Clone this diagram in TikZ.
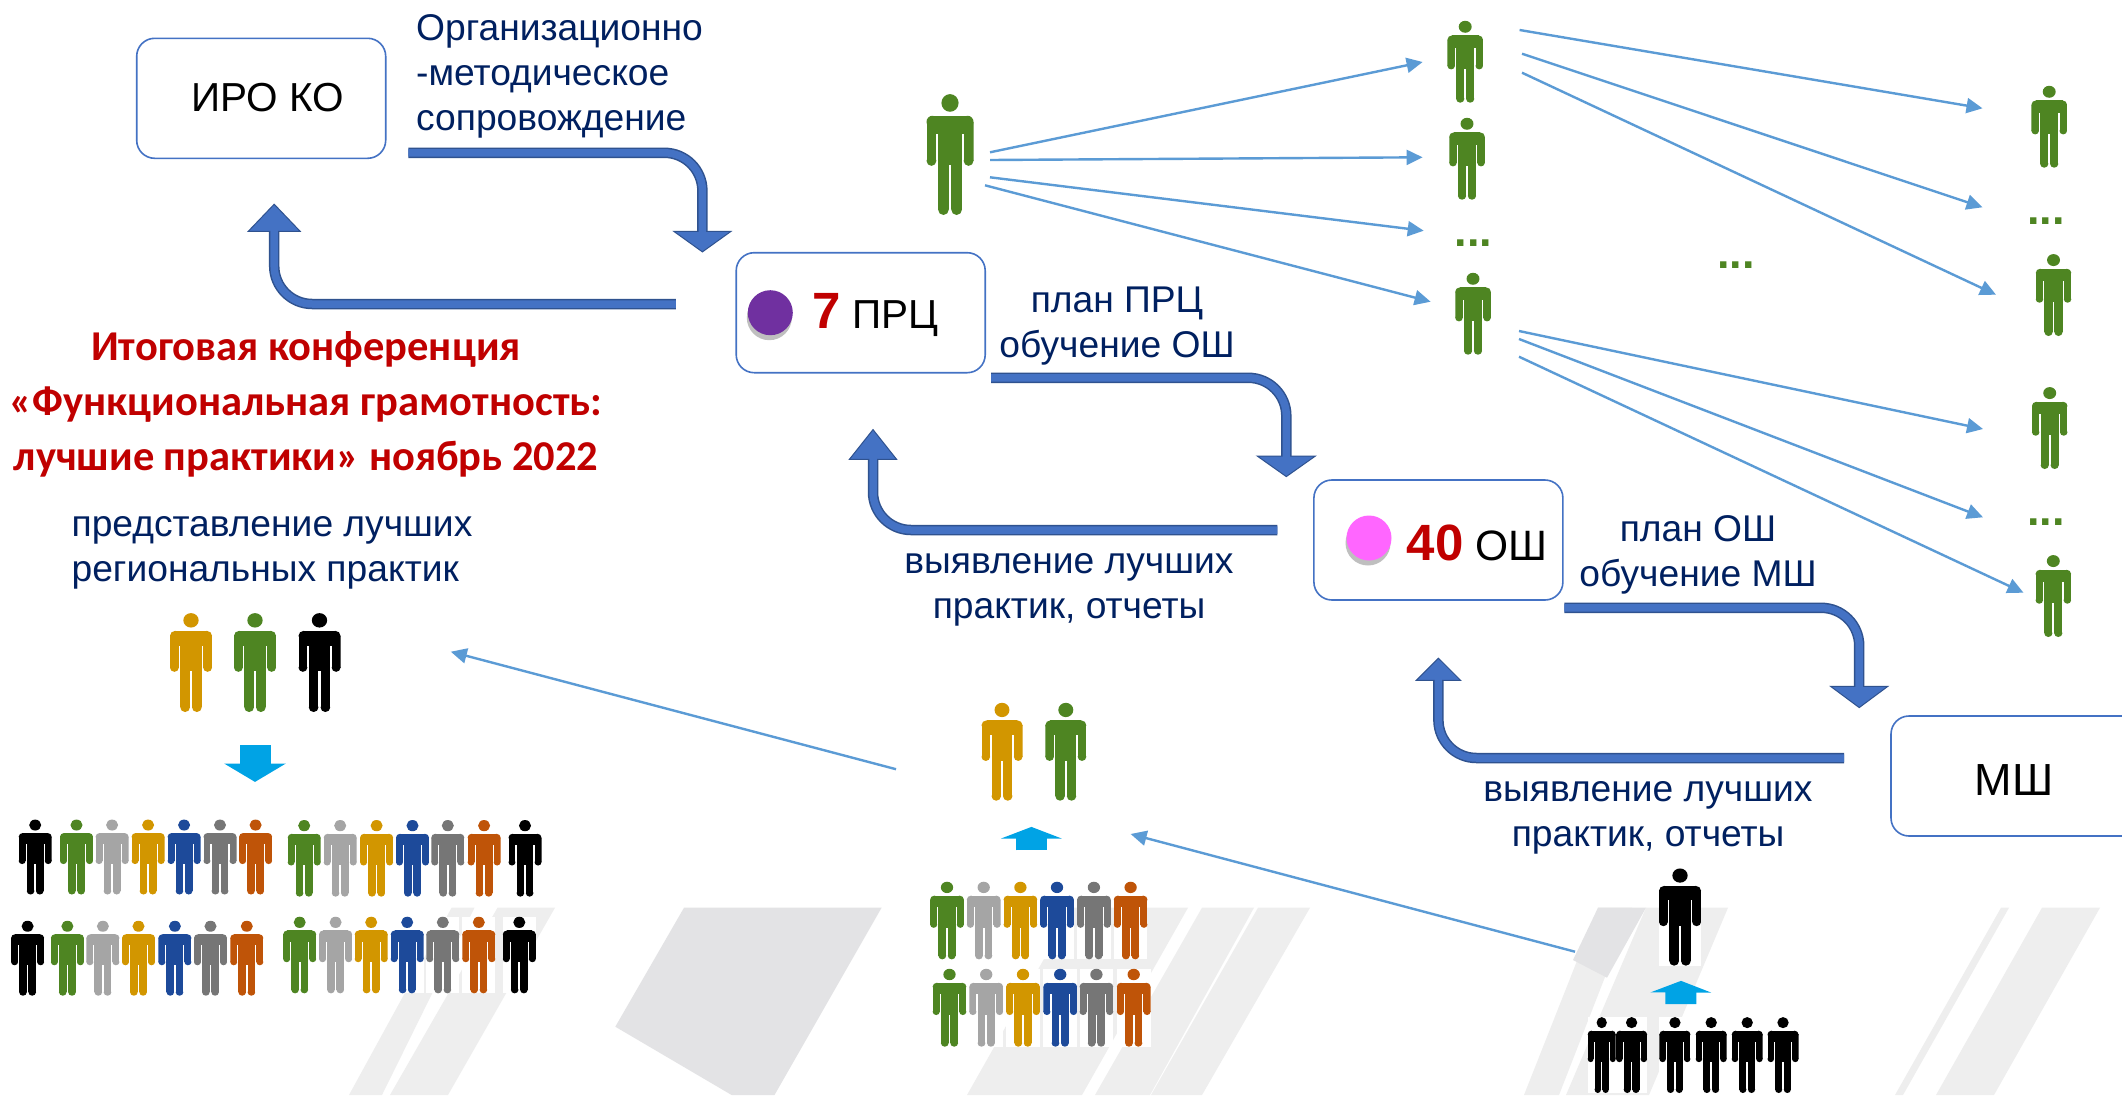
\documentclass[tikz,border=0pt]{standalone}
\usepackage{fontspec}
\setmainfont{Liberation Sans}
\newfontfamily\redfont{Carlito}
\usepackage{tikz}
\usetikzlibrary{arrows.meta, shadows}

\definecolor{boxblue}{HTML}{4472C4}
\definecolor{arrowblue}{HTML}{4472C4}
\definecolor{arrowedge}{HTML}{2F528F}
\definecolor{linkblue}{HTML}{5B9BD5}
\definecolor{tierblue}{HTML}{00A3E5}
\definecolor{labelnavy}{HTML}{002060}
\definecolor{titlered}{HTML}{C00000}
\definecolor{dotpurple}{HTML}{7030A0}
\definecolor{dotpink}{HTML}{FF66FF}
\definecolor{pgreen}{HTML}{4E8522}
\definecolor{porange}{HTML}{D29600}
\definecolor{psilver}{HTML}{A5A5A5}
\definecolor{pblue}{HTML}{1D4A9A}
\definecolor{pgray}{HTML}{767676}
\definecolor{prust}{HTML}{BF5408}
\definecolor{stripedark}{HTML}{E3E3E5}
\definecolor{stripelight}{HTML}{EEEEEE}

\newcommand{\personshape}[3]{%
	\begin{scope}[shift={(path picture bounding box.center)},x={#2pt/40},y={-#3pt/100},#1]
		\fill (0,-42.6) circle[radius=7.3];
		\fill (-15,-27) circle[radius=5];
		\fill (15,-27) circle[radius=5];
		\fill (-15,-32) rectangle (15,-17);
		\fill (-20,-27) rectangle (-11.6,5.2);
		\fill (11.6,-27) rectangle (20,5.2);
		\fill (-15.8,5.2) circle[radius=4.2];
		\fill (15.8,5.2) circle[radius=4.2];
		\fill (-10.2,-27) rectangle (10.2,9);
		\fill (-10.2,9) rectangle (-1,45.4);
		\fill (1,9) rectangle (10.2,45.4);
		\fill (-5.6,45.4) circle[radius=4.6];
		\fill (5.6,45.4) circle[radius=4.6];
	\end{scope}}

\tikzset{%
	person/.style n args={3}{rectangle,inner sep=0pt,fill=white,minimum width=#2pt,minimum height=#3pt,path picture={\personshape{#1}{#2}{#3}}},
	infobox/.style={draw=boxblue,line width=1.6pt,fill=white,rounded corners=18pt,inner sep=0pt,minimum width=249pt,minimum height=120pt},
	boxtext/.style={inner sep=0pt,font=\fontsize{40.5}{48}\selectfont},
	notelabel/.style={inner sep=0pt,text=labelnavy,align=center,font=\fontsize{37.2}{45}\selectfont},
	moredots/.style={inner sep=0pt,anchor=base,text=pgreen,font=\fontsize{45}{50}\selectfont\bfseries},
	statedot/.style={circle,inner sep=0pt,minimum size=45pt,fill=#1,drop shadow={shadow xshift=-1pt,shadow yshift=-5pt,opacity=0.5}},
	link/.style={draw=linkblue,line width=2.4pt,-{Triangle[length=16pt,width=15pt]}},
	flow/.style n args={2}{draw=arrowedge,line width=10.5pt,rounded corners=38pt,-{Triangle[length=#1pt,width=#2pt,fill=arrowblue,line width=1pt]},postaction={draw=arrowblue,line width=7.5pt,-,shorten >=#1pt-2pt}},
	tier/.style={draw=tierblue,line width=31pt},
}
\newcommand{\bignum}[1]{{\fontsize{51}{51}\selectfont\bfseries\textcolor{titlered}{#1}}}

\begin{document}
\begin{tikzpicture}[x=1pt,y=-1pt]
	\useasboundingbox[fill=white] (0,0) rectangle (2122,1095);

	% stripes behind the people
	\fill[stripedark] (684,907.7) -- (881.6,907.7) -- (774.5,1095) -- (731.6,1095) -- (615.3,1026.7) -- cycle;
	\fill[stripelight] (451.6,907.7) -- (474.5,907.7) -- (382,1095) -- (349,1095) -- cycle;
	\fill[stripelight] (497.5,907.7) -- (555,907.7) -- (448,1095) -- (390,1095) -- cycle;
	\fill[stripelight] (1073,907.7) -- (1188,907.7) -- (1082,1095) -- (967,1095) -- cycle;
	\fill[stripelight] (1202,907.7) -- (1254,907.7) -- (1150,1095) -- (1095,1095) -- cycle;
	\fill[stripelight] (1258,907.7) -- (1310,907.7) -- (1202,1095) -- (1151,1095) -- cycle;
	\fill[stripelight] (1598,907.7) -- (1632,907.7) -- (1559,1095) -- (1524,1095) -- cycle;
	\fill[stripelight] (1646,907.7) -- (1728,907.7) -- (1649,1095) -- (1566,1095) -- cycle;
	\fill[stripelight] (2001,907.7) -- (2009,907.7) -- (1903,1095) -- (1895,1095) -- cycle;
	\fill[stripelight] (2042,907.7) -- (2100,907.7) -- (1994,1095) -- (1936,1095) -- cycle;
	\fill[stripedark] (1573,960) -- (1607,977.7) -- (1646,907.7) -- (1598,907.7) -- cycle;

	% boxes
	\node[infobox](iro) at (261.2,98.3) {};
	\node[infobox](prc) at (860.7,312.7) {};
	\node[infobox](osh) at (1438.4,540) {};
	\node[infobox](msh) at (2015.5,776) {};
	\node[boxtext](irotext) at (267.5,98) {ИРО КО};
	\node[boxtext,anchor=base](prctext) at (875.5,328) {\bignum{7} ПРЦ};
	\node[boxtext,font=\fontsize{42.5}{48}\selectfont,anchor=base](oshtext) at (1477,560.7) {\bignum{40} ОШ};
	\node[boxtext,font=\fontsize{45}{48}\selectfont](mshtext) at (2014.3,780) {МШ};
	\node[statedot=dotpurple](prcdot) at (770.3,312.7) {};
	\node[statedot=dotpink](oshdot) at (1369,538) {};

	% labels
	\node[notelabel,anchor=west,align=left](orgnote) at (416,76) {Организационно\\-методическое\\сопровождение};
	\node[notelabel](plannote) at (1117,326.5) {план ПРЦ\\обучение ОШ};
	\node[notelabel](findnote) at (1069,589.5) {выявление лучших\\практик, отчеты};
	\node[notelabel](plantwo) at (1698,555) {план ОШ\\обучение МШ};
	\node[notelabel](findtwo) at (1648,818) {выявление лучших\\практик, отчеты};
	\node[notelabel,anchor=west,align=left](bestnote) at (71.4,553) {представление лучших\\региональных практик};
	\node[inner sep=0pt,text=titlered,align=center,font=\fontsize{42.5}{55}\selectfont\redfont\bfseries](title) at (306,404) {Итоговая конференция\\«Функциональная грамотность:\\лучшие практики» ноябрь 2022};

	% flow arrows
	\draw[flow={21.6}{60}] ([shift={(21.8,-6.3)}]iro.south east) -| ([shift={(-33,0.6)}]prc.north west);
	\draw[flow={28.3}{54}] ([shift={(-59.6,-8.7)}]prc.west) -| ([shift={(13,44.4)}]iro.south);
	\draw[flow={21.6}{61}] ([shift={(5,4.3)}]prc.south east) -| ([shift={(-26.8,-2)}]osh.north west);
	\draw[flow={31}{49}] ([shift={(-35.8,-10)}]osh.west) -| ([shift={(12.3,55.3)}]prc.south);
	\draw[flow={22.3}{60}] ([shift={(0.7,7)}]osh.south east) -| ([shift={(-31,-7)}]msh.north west);
	\draw[flow={23.3}{46.5}] ([shift={(-46,-18)}]msh.west) -| ([shift={(0,56.7)}]osh.south);

	% people at the top
	\node[person={pgreen}{47}{121}](lead) at (950,154.5) {};
	\node[person={pgreen}{35.5}{82}](g1) at (1465.2,61.7) {};
	\node[person={pgreen}{35.5}{82}](g2) at (1467,158.7) {};
	\node[person={pgreen}{35.5}{82}](g3) at (1473,313.7) {};
	\node[person={pgreen}{35.5}{82}](h1) at (2049.2,126.7) {};
	\node[person={pgreen}{35.5}{82}](h2) at (2053.5,295) {};
	\node[person={pgreen}{35.5}{82}](h3) at (2049.7,428) {};
	\node[person={pgreen}{35.5}{82}](h4) at (2053.3,596) {};
	\node[moredots](dots1) at (1473.7,246) {...};
	\node[moredots](dots2) at (1736,268) {...};
	\node[moredots](dots3) at (2046,224.7) {...};
	\node[moredots](dots4) at (2046,525.7) {...};

	\draw[link] ([shift={(40,-2.2)}]lead.center) to ([shift={(-42.6,0.3)}]g1.center);
	\draw[link] ([shift={(40,5.5)}]lead.center) to ([shift={(-44.4,-1.4)}]g2.center);
	\draw[link] ([shift={(40,22.8)}]lead.center) to ([shift={(-50,-15.3)}]dots1.base);
	\draw[link] ([shift={(35,30.8)}]lead.center) to ([shift={(-42.4,-12)}]g3.center);
	\draw[link] ([shift={(54.4,-31.7)}]g1.center) to ([shift={(-66.7,-18.4)}]h1.center);
	\draw[link] ([shift={(56.8,-8)}]g1.center) to ([shift={(-63.5,-17.4)}]dots3.base);
	\draw[link] ([shift={(56.8,11)}]g1.center) to ([shift={(-57.5,-0.3)}]h2.center);
	\draw[link] ([shift={(46,17.3)}]g3.center) to ([shift={(-66.7,1)}]h3.center);
	\draw[link] ([shift={(46,25.3)}]g3.center) to ([shift={(-63,-8.4)}]dots4.base);
	\draw[link] ([shift={(46,43)}]g3.center) to ([shift={(-29.8,-3.3)}]h4.center);

	% best practices on the left
	\node[person={porange}{42}{99}](t1) at (191,662.5) {};
	\node[person={pgreen}{42}{99}](t2) at (255,662.5) {};
	\node[person={black}{42}{99}](t3) at (319.5,662.5) {};
	\draw[tier,-{Triangle[length=18.4pt,width=61pt]}] ([yshift=-33pt]t2.south) to ([yshift=-69.7pt]t2.south);

	\node[person={black}{33}{75}](a1) at (35.2,857) {};
	\node[person={pgreen}{33}{75}](a2) at (76.5,857) {};
	\node[person={psilver}{33}{75}](a3) at (112.1,857) {};
	\node[person={porange}{33}{75}](a4) at (148.1,857) {};
	\node[person={pblue}{33}{75}](a5) at (184.1,857) {};
	\node[person={pgray}{33}{75}](a6) at (220,857) {};
	\node[person={prust}{33}{75}](a7) at (255.6,857) {};
	\node[person={pgreen}{33}{76.7}](b1) at (304.2,858.3) {};
	\node[person={psilver}{33}{76.7}](b2) at (340.2,858.3) {};
	\node[person={porange}{33}{76.7}](b3) at (376.6,858.3) {};
	\node[person={pblue}{33}{76.7}](b4) at (412.5,858.3) {};
	\node[person={pgray}{33}{76.7}](b5) at (447.8,858.3) {};
	\node[person={prust}{33}{76.7}](b6) at (484.1,858.3) {};
	\node[person={black}{33}{76.7}](b7) at (525,858.3) {};
	\node[person={black}{33}{75}](c1) at (27.6,958.2) {};
	\node[person={pgreen}{33}{75}](c2) at (67.4,958.2) {};
	\node[person={psilver}{33}{75}](c3) at (102.9,958.2) {};
	\node[person={porange}{33}{75}](c4) at (138.5,958.2) {};
	\node[person={pblue}{33}{75}](c5) at (174.9,958.2) {};
	\node[person={pgray}{33}{75}](c6) at (210.5,958.2) {};
	\node[person={prust}{33}{75}](c7) at (246.8,958.2) {};
	\node[person={pgreen}{33}{76.7}](d1) at (299.7,955) {};
	\node[person={psilver}{33}{76.7}](d2) at (335.6,955) {};
	\node[person={porange}{33}{76.7}](d3) at (371.2,955) {};
	\node[person={pblue}{33}{76.7}](d4) at (407.2,955) {};
	\node[person={pgray}{33}{76.7}](d5) at (442.8,955) {};
	\node[person={prust}{33}{76.7}](d6) at (478.8,955) {};
	\node[person={black}{33}{76.7}](d7) at (519.3,955) {};

	% middle group
	\node[person={porange}{41}{98}](m1) at (1002,751.7) {};
	\node[person={pgreen}{41}{98}](m2) at (1065.8,751.7) {};
	\node[person={pgreen}{33.7}{77.7}](e1) at (947,920.5) {};
	\node[person={psilver}{33.7}{77.7}](e2) at (983.7,920.5) {};
	\node[person={porange}{33.7}{77.7}](e3) at (1020.4,920.5) {};
	\node[person={pblue}{33.7}{77.7}](e4) at (1057,920.5) {};
	\node[person={pgray}{33.7}{77.7}](e5) at (1093.9,920.5) {};
	\node[person={prust}{33.7}{77.7}](e6) at (1130.6,920.5) {};
	\node[person={pgreen}{33.7}{78}](f1) at (949.5,1007.7) {};
	\node[person={psilver}{33.7}{78}](f2) at (986.2,1007.7) {};
	\node[person={porange}{33.7}{78}](f3) at (1023,1007.7) {};
	\node[person={pblue}{33.7}{78}](f4) at (1060.2,1007.7) {};
	\node[person={pgray}{33.7}{78}](f5) at (1096.4,1007.7) {};
	\node[person={prust}{33.7}{78}](f6) at (1133.7,1007.7) {};
	\draw[tier,-{Triangle[length=11.7pt,width=60.7pt]}] ([shift={(11,-31)}]e3.north) to ([shift={(29.4,26)}]m1.south);

	% black group
	\node[person={black}{42}{97.3}](k0) at (1680,917) {};
	\node[person={black}{28}{76}](k1) at (1601.7,1055) {};
	\node[person={black}{31}{76}](k2) at (1631.6,1055) {};
	\node[person={black}{31}{76}](k3) at (1674.9,1055) {};
	\node[person={black}{31}{76}](k4) at (1711.2,1055) {};
	\node[person={black}{31}{76}](k5) at (1747.2,1055) {};
	\node[person={black}{31}{76}](k6) at (1783,1055) {};
	\draw[tier,-{Triangle[length=11.7pt,width=60.7pt]}] ([shift={(6,-12.7)}]k3.north) to ([shift={(1,15)}]k0.south);

	% links between groups
	\draw[link] ([shift={(-106,-31.7)}]m1.south) to ([shift={(131.3,-10.8)}]t3.center);
	\draw[link] ([shift={(-105,34.7)}]k0.center) to ([shift={(0,-86.5)}]e6.center);
\end{tikzpicture}
\end{document}
